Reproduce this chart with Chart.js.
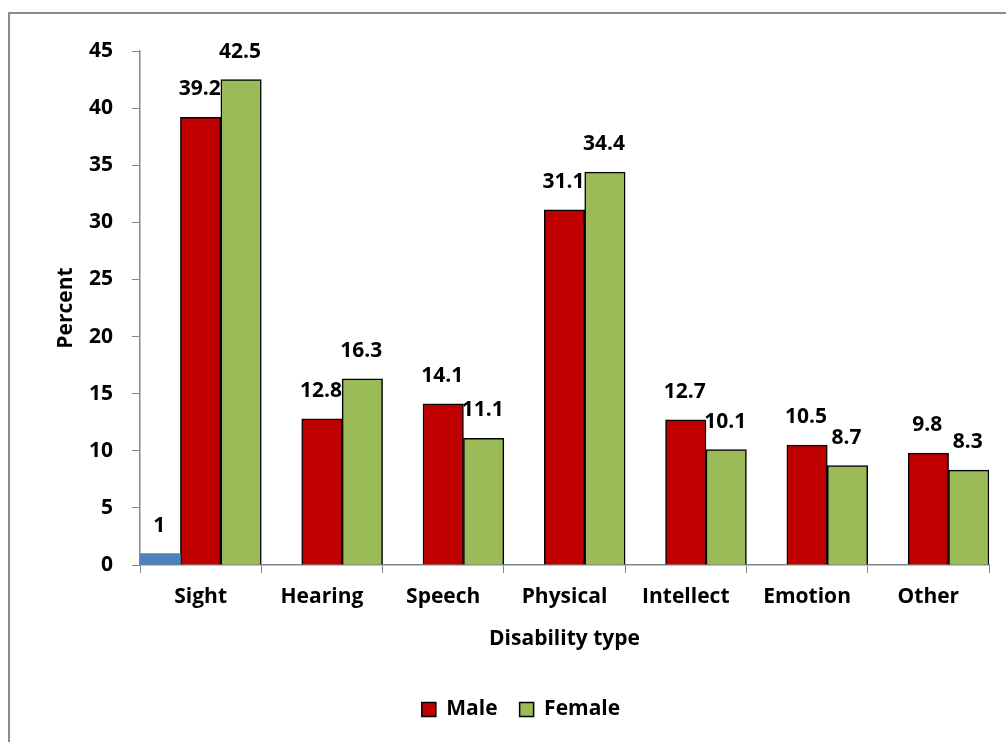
<!DOCTYPE html>
<html>
<head>
<meta charset="utf-8">
<script src="https://cdn.jsdelivr.net/npm/chart.js@4"></script>
<style>
  html, body { margin: 0; padding: 0; background: #fff; }
  #wrap { width: 1006px; height: 742px; position: relative; }
</style>
</head>
<body>
<div id="wrap"><canvas id="chart"></canvas></div>
<script>
const categories = ['Sight', 'Hearing', 'Speech', 'Physical', 'Intellect', 'Emotion', 'Other'];
const extraValues = [1, 0, 0, 0, 0, 0, 0];
const maleValues = [39.2, 12.8, 14.1, 31.1, 12.7, 10.5, 9.8];
const femaleValues = [42.5, 16.3, 11.1, 34.4, 10.1, 8.7, 8.3];
const yTicks = [0, 5, 10, 15, 20, 25, 30, 35, 40, 45];

const FONT = '"Open Sans", Lato, sans-serif';
const FSIZE = 21;
const GREY = '#868686';

// outer frame like the excel chart border
const framePlugin = {
    id: 'frame',
    beforeDraw(chart) {
        const ctx = chart.ctx;
        ctx.save();
        ctx.fillStyle = '#fff';
        ctx.fillRect(0, 0, chart.width, chart.height);
        ctx.strokeStyle = '#8c8c8c';
        ctx.lineWidth = 2;
        ctx.strokeRect(9, 13, chart.width + 20, chart.height + 20);
        ctx.restore();
    }
};

// value labels above the bars
const labelPlugin = {
    id: 'barLabels',
    afterDatasetsDraw(chart) {
        const ctx = chart.ctx;
        ctx.save();
        ctx.font = 'bold ' + FSIZE + 'px ' + FONT;
        ctx.fillStyle = '#000';
        ctx.textAlign = 'center';
        ctx.textBaseline = 'middle';
        chart.data.datasets.forEach((ds, i) => {
            const meta = chart.getDatasetMeta(i);
            meta.data.forEach((bar, j) => {
                const v = ds.data[j];
                if (!v) return;
                ctx.fillText(String(v), bar.x - 1, bar.y - 28);
            });
        });
        ctx.restore();
    }
};

const font = { family: FONT, size: FSIZE, weight: 'bold' };

new Chart(document.getElementById('chart'), {
    type: 'bar',
    data: {
        labels: categories,
        datasets: [
            {
                label: 'Series1',
                data: extraValues,
                backgroundColor: '#4f81bd',
                borderWidth: 0
            },
            {
                label: 'Male',
                data: maleValues,
                backgroundColor: '#c00000',
                borderColor: '#000',
                borderWidth: 1.5
            },
            {
                label: 'Female',
                data: femaleValues,
                backgroundColor: '#9bbb59',
                borderColor: '#000',
                borderWidth: 1.5
            }
        ]
    },
    options: {
        responsive: true,
        maintainAspectRatio: false,
        animation: false,
        datasets: {
            bar: { categoryPercentage: 1.0, barPercentage: 1.0 }
        },
        layout: {
            padding: { left: 53, right: 17, top: 51, bottom: 12 }
        },
        plugins: {
            tooltip: { enabled: false },
            legend: {
                position: 'bottom',
                labels: {
                    color: '#000',
                    font: font,
                    boxWidth: 14,
                    boxHeight: 14,
                    padding: 22,
                    filter: item => item.datasetIndex > 0
                }
            }
        },
        scales: {
            x: {
                grid: {
                    display: true,
                    drawOnChartArea: false,
                    offset: true,
                    tickLength: 8,
                    color: GREY
                },
                border: { color: GREY, width: 1.5 },
                ticks: { color: '#000', padding: 11, font: font },
                title: {
                    display: true,
                    text: 'Disability type',
                    color: '#000',
                    padding: { top: 0, bottom: 25 },
                    font: font
                },
                afterFit: s => { s.height = 112; }
            },
            y: {
                min: 0,
                max: 45,
                afterBuildTicks: s => { s.ticks = yTicks.map(v => ({ value: v })); },
                grid: {
                    display: true,
                    drawOnChartArea: false,
                    tickLength: 8,
                    color: GREY
                },
                border: { color: GREY, width: 1.5 },
                ticks: { color: '#000', padding: 19, font: font },
                title: {
                    display: true,
                    text: 'Percent',
                    color: '#000',
                    padding: 0,
                    font: font
                },
                afterFit: s => { s.width = 87; }
            }
        }
    },
    plugins: [framePlugin, labelPlugin]
});
</script>
</body>
</html>
